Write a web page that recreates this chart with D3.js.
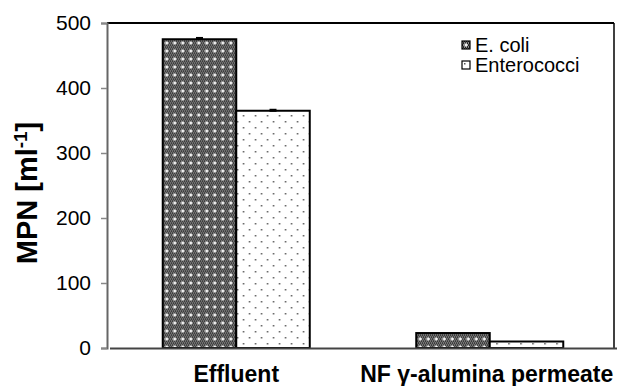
<!DOCTYPE html>
<html>
<head>
<meta charset="utf-8">
<script src="https://cdn.jsdelivr.net/npm/d3@7"></script>
<style>
  html, body { margin: 0; padding: 0; background: #fff; }
  svg { display: block; font-family: "Liberation Sans", Arial, sans-serif; }
</style>
</head>
<body>
<svg id="chart" width="618" height="386"></svg>
<script>
// MPN counts for each sample, by indicator organism
const categories = ["Effluent", "NF \u03b3-alumina permeate"];
const seriesNames = ["E. coli", "Enterococci"];
const ecoli = [475, 23];
const enterococci = [365, 10];
const ecoliErr = [2, 0];
const enteroErr = [1.5, 0];
const yTicks = [0, 100, 200, 300, 400, 500];

const svg = d3.select("#chart");
const margin = { top: 23, right: 4, bottom: 38, left: 107 };
const W = 618, H = 386;
const iw = W - margin.left - margin.right;
const ih = H - margin.top - margin.bottom;

// fill patterns
const defs = svg.append("defs");
const pA = defs.append("pattern").attr("id", "patEcoli")
  .attr("patternUnits", "userSpaceOnUse").attr("width", 8).attr("height", 8);
pA.append("rect").attr("width", 8).attr("height", 8).attr("fill", "#8a8a8a");
for (let i = 0; i < 8; i += 2) for (let j = 0; j < 8; j += 2) {
  pA.append("rect").attr("x", i + ((j / 2) % 2)).attr("y", j).attr("width", 1).attr("height", 1).attr("fill", "#222");
  pA.append("rect").attr("x", i + 1 - ((j / 2) % 2)).attr("y", j + 1).attr("width", 1).attr("height", 1).attr("fill", "#333");
}
pA.append("rect").attr("x", 3).attr("y", 3).attr("width", 2).attr("height", 2).attr("fill", "#fff");
pA.append("rect").attr("x", 3.5).attr("y", 2).attr("width", 1).attr("height", 4).attr("fill", "#eee");
pA.append("rect").attr("x", 2).attr("y", 3.5).attr("width", 4).attr("height", 1).attr("fill", "#eee");

const pB = defs.append("pattern").attr("id", "patEntero")
  .attr("patternUnits", "userSpaceOnUse").attr("width", 12).attr("height", 12);
pB.append("rect").attr("width", 12).attr("height", 12).attr("fill", "#fff");
pB.append("rect").attr("x", 2).attr("y", 2).attr("width", 1.5).attr("height", 1.5).attr("fill", "#555");
pB.append("rect").attr("x", 8).attr("y", 8).attr("width", 1.5).attr("height", 1.5).attr("fill", "#555");

const g = svg.append("g").attr("transform", `translate(${margin.left},${margin.top})`);

const x0 = d3.scaleBand().domain(categories).range([2.5, iw + 2.5]).paddingInner(0.42).paddingOuter(0.21);
const x1 = d3.scaleBand().domain(seriesNames).range([0, x0.bandwidth()]);
const y = d3.scaleLinear().domain([0, 500]).range([ih, 0]);

const fills = { "E. coli": "url(#patEcoli)", "Enterococci": "url(#patEntero)" };
const rows = categories.map((c, i) => ({
  cat: c,
  vals: [
    { s: "E. coli", v: ecoli[i], e: ecoliErr[i] },
    { s: "Enterococci", v: enterococci[i], e: enteroErr[i] }
  ]
}));

const grp = g.selectAll(".grp").data(rows).join("g")
  .attr("transform", d => `translate(${x0(d.cat)},0)`);
grp.selectAll("rect").data(d => d.vals).join("rect")
  .attr("x", d => x1(d.s))
  .attr("y", d => y(d.v))
  .attr("width", x1.bandwidth())
  .attr("height", d => ih - y(d.v))
  .attr("fill", d => fills[d.s])
  .attr("stroke", "#000").attr("stroke-width", 2);

// error bar caps
grp.selectAll(".err").data(d => d.vals.filter(v => v.e > 0)).join("rect")
  .attr("x", d => x1(d.s) + x1.bandwidth() / 2 - 3.5)
  .attr("y", d => y(d.v + d.e) - 1)
  .attr("width", 7)
  .attr("height", d => Math.max(3, y(d.v - d.e) - y(d.v + d.e)))
  .attr("fill", "#000");

// frame: top and right in black
g.append("line").attr("x1", 0).attr("x2", iw).attr("y1", 0).attr("y2", 0).attr("stroke", "#000").attr("stroke-width", 2);
g.append("line").attr("x1", iw).attr("x2", iw).attr("y1", 0).attr("y2", ih).attr("stroke", "#000").attr("stroke-width", 1.5);

// y axis
const yAxis = g.append("g").call(d3.axisLeft(y).tickValues(yTicks).tickSize(6).tickPadding(10));
yAxis.select(".domain").attr("stroke", "#666").attr("stroke-width", 2);
yAxis.selectAll(".tick line").attr("stroke", "#888").attr("stroke-width", 1.5);
yAxis.selectAll(".tick text").attr("font-size", 21).attr("fill", "#000")
  .attr("font-family", "Liberation Sans, Arial, sans-serif");

// x axis
const xAxis = g.append("g").attr("transform", `translate(0,${ih})`)
  .call(d3.axisBottom(x0).tickSize(0).tickPadding(18));
xAxis.select(".domain").attr("stroke", "#444").attr("stroke-width", 2);
xAxis.selectAll(".tick text").attr("font-size", 23).attr("font-weight", "bold").attr("fill", "#000")
  .attr("font-family", "Liberation Sans, Arial, sans-serif")
  .attr("dx", (d, i) => i === 1 ? -3 : 0);

// y axis title
const yt = svg.append("text")
  .attr("transform", `translate(37,193) rotate(-90)`)
  .attr("text-anchor", "middle")
  .attr("font-size", 29).attr("font-weight", "bold");
yt.append("tspan").text("MPN [ml");
yt.append("tspan").attr("baseline-shift", "super").attr("font-size", 19).text("-1");
yt.append("tspan").text("]");

// legend
const leg = svg.append("g").attr("transform", "translate(462,41)");
seriesNames.forEach((s, i) => {
  const r = leg.append("g").attr("transform", `translate(0,${i * 20})`);
  r.append("rect").attr("width", 8).attr("height", 8).attr("fill", fills[s])
    .attr("stroke", "#000").attr("stroke-width", 1.2);
  r.append("text").attr("x", 13).attr("y", 11).attr("font-size", 20).text(s);
});
</script>
</body>
</html>
